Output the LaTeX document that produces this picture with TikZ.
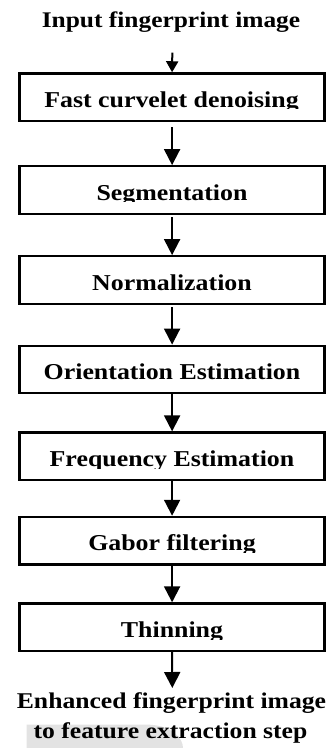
\documentclass[tikz,border=0pt]{standalone}
\usepackage{fontspec}
\setmainfont{Liberation Serif}[FakeStretch=1.14]
\usetikzlibrary{arrows.meta}
\definecolor{hlgray}{HTML}{E3E3E3}
\tikzset{
  stage/.style={draw, rectangle, line width=2.3pt, minimum width=305pt,
    minimum height=47.5pt, inner sep=0pt},
  stagetext/.style={anchor=base, inner sep=0pt,
    font=\fontsize{22.7}{27}\selectfont\bfseries},
  endtext/.style={anchor=base, inner sep=0pt,
    font=\fontsize{22.5}{27}\selectfont\bfseries},
  flow/.style={line width=2pt, -{Triangle[width=16pt,length=16pt]}},
  flowsmall/.style={line width=2pt, -{Triangle[width=12pt,length=11pt]}},
}
% a stage box whose caption is cut just under the baseline
\newcommand{\stagebox}[4]{%
  \node[stage] (#1) at (172.1,#2) {};
  \begin{scope}
    \clip (20,#2-23) rectangle (324,#2+11.8);
    \node[stagetext] (#1t) at (#3,#2+10.25) {#4};
  \end{scope}}
\begin{document}
\begin{tikzpicture}[x=1pt,y=-1pt]
  \useasboundingbox (0,0) rectangle (326,748);

  % highlight behind the last line
  \fill[hlgray] (26.7,724.7) -- (150,724.7)
    .. controls (172,726) and (183,738) .. (183,748)
    -- (26.7,748) -- cycle;

  \node[endtext, font=\fontsize{22.3}{27}\selectfont\bfseries] (in) at (171,27) {Input fingerprint image};
  \coordinate (instart) at (172.3,52.7);

  \stagebox{b1}{97.15}{171.5}{Fast curvelet denoising}
  \stagebox{b2}{190}{172}{Segmentation}
  \stagebox{b3}{280}{172}{Normalization}
  \stagebox{b4}{369.5}{172}{Orientation Estimation}
  \stagebox{b5}{456.25}{172}{Frequency Estimation}
  \stagebox{b6}{540.65}{172}{Gabor filtering}
  \stagebox{b7}{627.2}{172}{Thinning}

  \coordinate (outend) at (172.3,688);
  \node[endtext] (out1) at (171.5,708) {Enhanced fingerprint image};
  \node[endtext] (out2) at (170.5,738) {to feature extraction step};

  \draw[flowsmall] (instart) -- (b1.north);
  \draw[flow] ([yshift=-5pt]b1.south) -- (b2.north);
  \draw[flow] ([yshift=-2.5pt]b2.south) -- (b3.north);
  \draw[flow] ([yshift=-2.5pt]b3.south) -- (b4.north);
  \draw[flow] (b4.south) -- (b5.north);
  \draw[flow] (b5.south) -- (b6.north);
  \draw[flow] (b6.south) -- (b7.north);
  \draw[flow] (b7.south) -- (outend);
\end{tikzpicture}
\end{document}
